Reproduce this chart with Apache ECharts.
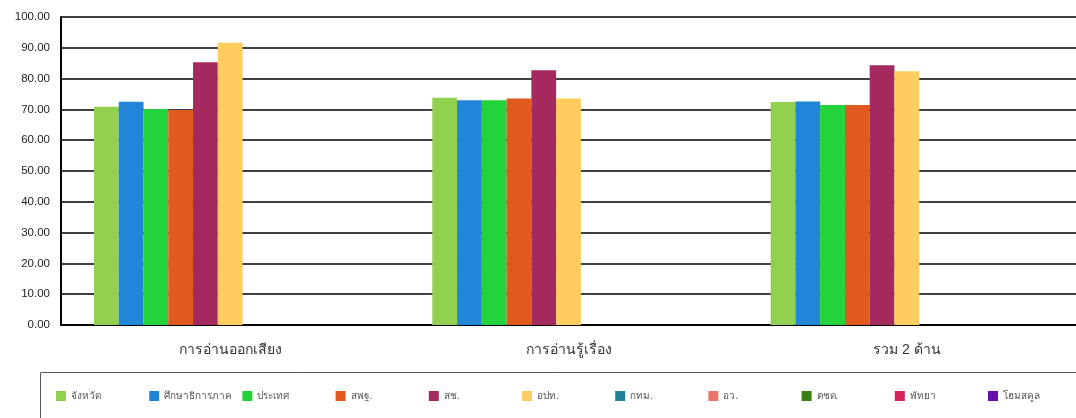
<!DOCTYPE html>
<html>
<head>
<meta charset="utf-8">
<script src="https://cdn.jsdelivr.net/npm/echarts@6/dist/echarts.min.js"></script>
<style>
  html, body { margin: 0; padding: 0; background: #fff; }
  #chart { width: 1076px; height: 418px; }
</style>
</head>
<body>
<div id="chart"></div>
<script>
const categories = ['การอ่านออกเสียง', 'การอ่านรู้เรื่อง', 'รวม 2 ด้าน'];
const seriesNames = ['จังหวัด', 'ศึกษาธิการภาค', 'ประเทศ', 'สพฐ.', 'สช.', 'อปท.', 'กทม.', 'อว.', 'ตชด.', 'พัทยา', 'โฮมสคูล'];
const seriesColors = ['#92d050', '#2186d8', '#22d33c', '#e05a1e', '#a3295e', '#fecc5f', '#23809a', '#e8776b', '#3f7e12', '#d4235a', '#6a0dad'];
const changwat = [70.9, 73.8, 72.4];
const region = [72.5, 73.0, 72.6];
const country = [70.1, 73.0, 71.4];
const obec = [69.8, 73.5, 71.4];
const opec = [85.3, 82.7, 84.3];
const dla = [91.6, 73.5, 82.4];
const bma = [];
const mhesi = [];
const bpp = [];
const pattaya = [];
const homeschool = [];
const seriesValues = [changwat, region, country, obec, opec, dla, bma, mhesi, bpp, pattaya, homeschool];

const chart = echarts.init(document.getElementById('chart'));

// one legend per item so each sits on a fixed 93px stride like the original
const legends = seriesNames.map((name, i) => ({
  data: [name],
  left: 51 + i * 93.2,
  top: 386,
  padding: 5,
  itemWidth: 10,
  itemHeight: 10,
  icon: 'rect',
  textStyle: { fontSize: 10, color: '#555', fontFamily: 'sans-serif' }
}));

const option = {
  animation: false,
  grid: { left: 61, right: -2, top: 17, bottom: 93 },
  legend: legends,
  graphic: [{
    type: 'rect',
    shape: { x: 40.5, y: 372.5, width: 1100, height: 60 },
    style: { fill: 'none', stroke: '#555', lineWidth: 1 },
    silent: true
  }],
  xAxis: {
    type: 'category',
    data: categories,
    axisLine: { lineStyle: { color: '#000', width: 2 } },
    axisTick: { show: false },
    axisLabel: { fontSize: 14, color: '#333', margin: 18, fontFamily: 'sans-serif' }
  },
  yAxis: {
    type: 'value',
    min: 0,
    max: 100,
    interval: 10,
    axisLine: { show: true, lineStyle: { color: '#000', width: 2 } },
    axisTick: { show: false },
    splitLine: { lineStyle: { color: '#000', width: 1.5 } },
    axisLabel: {
      fontSize: 11.5,
      color: '#222',
      margin: 11,
      fontFamily: '"Liberation Sans", Arial, sans-serif',
      formatter: (v) => v.toFixed(2)
    }
  },
  series: seriesNames.map((name, i) => ({
    name,
    type: 'bar',
    data: seriesValues[i],
    itemStyle: { color: seriesColors[i] },
    barGap: '0%',
    barCategoryGap: '19.5%'
  }))
};

chart.setOption(option);
</script>
</body>
</html>
